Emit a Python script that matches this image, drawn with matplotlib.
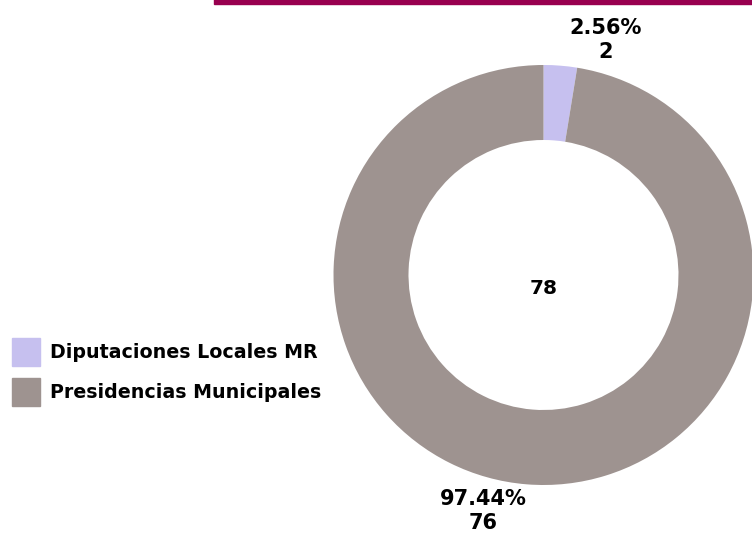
import numpy as np
import matplotlib.pyplot as plt
from matplotlib.patches import Rectangle

# Data
labels = ["Diputaciones Locales MR", "Presidencias Municipales"]
values = [2, 76]
colors = ["#c6c0ef", "#9e9390"]
total = sum(values)
pcts = [v / total * 100 for v in values]

plt.rcParams['font.family'] = ['DejaVu Sans']

fig = plt.figure(figsize=(7.52, 5.34), dpi=100)
ax = fig.add_axes([0, 0, 1, 1])

# top bar
ax.add_patch(Rectangle((214, 530), 540, 6, color="#98004f", clip_on=False))

cx, cy = 543.5, 259
wedges, _ = ax.pie(values, colors=colors, startangle=90, counterclock=False,
                   radius=210, center=(cx, cy),
                   wedgeprops=dict(width=75, linewidth=0), frame=True)
ax.set_xlim(0, 752)
ax.set_ylim(0, 534)
ax.set_aspect('equal')
ax.axis('off')

# slice labels
ax.text(606, 493.5, f"{pcts[0]:.2f}%\n{values[0]}", ha='center', va='center',
        fontsize=15, fontweight='bold', linespacing=1.25)
ax.text(483.5, 23, f"{pcts[1]:.2f}%\n{values[1]}", ha='center', va='center',
        fontsize=15, fontweight='bold', linespacing=1.25)

# center total
ax.text(cx, 534 - 289, str(total), ha='center', va='center', fontsize=14.5,
        fontweight='bold')

# legend
for i, (lab, col) in enumerate(zip(labels, colors)):
    y = 534 - 352 - i * 40
    ax.add_patch(Rectangle((12, y - 14), 28, 28, color=col))
    ax.text(50, y, lab, ha='left', va='center', fontsize=13.7, fontweight='bold')

fig.savefig("out.png", dpi=100)
